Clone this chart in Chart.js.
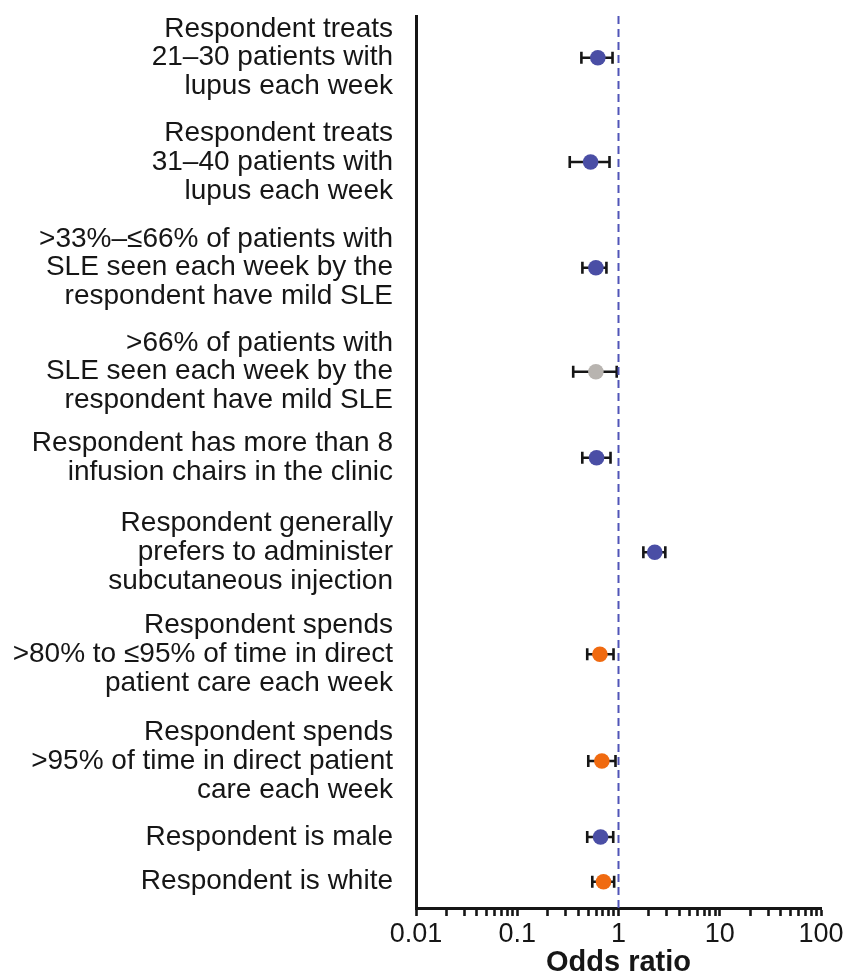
<!DOCTYPE html>
<html>
<head>
<meta charset="utf-8">
<script src="https://cdn.jsdelivr.net/npm/chart.js@4.4.1/dist/chart.umd.min.js"></script>
<style>
html,body{margin:0;padding:0;background:#fff;}
#wrap{width:846px;height:974px;}
</style>
</head>
<body>
<div id="wrap"><canvas id="c" width="846" height="974"></canvas></div>
<script>
// Row labels (multi-line)
const categories = [
  ["Respondent treats", "21\u201330 patients with", "lupus each week"],
  ["Respondent treats", "31\u201340 patients with", "lupus each week"],
  [">33%\u2013\u226466% of patients with", "SLE seen each week by the", "respondent have mild SLE"],
  [">66% of patients with", "SLE seen each week by the", "respondent have mild SLE"],
  ["Respondent has more than 8", "infusion chairs in the clinic"],
  ["Respondent generally", "prefers to administer", "subcutaneous injection"],
  ["Respondent spends", ">80% to \u226495% of time in direct", "patient care each week"],
  ["Respondent spends", ">95% of time in direct patient", "care each week"],
  ["Respondent is male"],
  ["Respondent is white"]
];
// Vertical row positions (axis units, top = 0, bottom = 20)
const rowPos = [0.935, 3.274, 5.643, 7.975, 9.904, 12.025, 14.312, 16.704, 18.408, 19.41];
// Odds ratios and 95% CI
const oddsRatio = [0.625, 0.53, 0.598, 0.598, 0.607, 2.28, 0.655, 0.685, 0.665, 0.711];
const ciLow     = [0.43, 0.33, 0.44, 0.357, 0.439, 1.76, 0.491, 0.503, 0.491, 0.551];
const ciHigh    = [0.873, 0.815, 0.76, 0.96, 0.834, 2.90, 0.893, 0.934, 0.887, 0.906];
// Group of each row: colour key
const group = ["blue","blue","blue","grey","blue","blue","orange","orange","blue","orange"];
const xTickValues = [0.01, 0.1, 1, 10, 100];
const xTickLabels = ["0.01", "0.1", "1", "10", "100"];
const refLine = 1;

const palette = {blue: "#4a4ea5", orange: "#f06a10", grey: "#b8b4b0"};
const ink = "#161616";
const FONT = "'Liberation Sans', Arial, Helvetica, sans-serif";

const errorBars = {
  id: "errorBars",
  beforeDatasetsDraw(chart) {
    const ctx = chart.ctx, xs = chart.scales.x, ys = chart.scales.y;
    ctx.save();
    ctx.strokeStyle = ink;
    ctx.lineWidth = 2.6;
    for (let i = 0; i < oddsRatio.length; i++) {
      const y = ys.getPixelForValue(rowPos[i]);
      const x1 = xs.getPixelForValue(ciLow[i]);
      const x2 = xs.getPixelForValue(ciHigh[i]);
      ctx.beginPath();
      ctx.moveTo(x1, y); ctx.lineTo(x2, y);
      ctx.moveTo(x1, y - 6); ctx.lineTo(x1, y + 6);
      ctx.moveTo(x2, y - 6); ctx.lineTo(x2, y + 6);
      ctx.stroke();
    }
    ctx.restore();
  }
};

const minorTicks = [];
for (let e = -2; e < 2; e++) {
  for (let m = 1; m < 10; m++) minorTicks.push(+(m * Math.pow(10, e)).toPrecision(3));
}
minorTicks.push(100);

new Chart(document.getElementById("c"), {
  data: {
    datasets: [
      {
        type: "scatter",
        order: 1,
        data: oddsRatio.map((v, i) => ({x: v, y: rowPos[i]})),
        pointRadius: 7.8,
        pointHoverRadius: 7.8,
        pointBorderWidth: 0,
        pointBackgroundColor: group.map(g => palette[g]),
        pointBorderColor: group.map(g => palette[g])
      },
      {
        type: "line",
        order: 2,
        data: [{x: refLine, y: 0}, {x: refLine, y: 20}],
        borderColor: "#5055b8",
        borderWidth: 2,
        borderDash: [8, 5],
        pointRadius: 0,
        fill: false
      }
    ]
  },
  options: {
    responsive: false,
    animation: false,
    layout: {padding: {top: 16, right: 25, left: 0, bottom: 0}},
    plugins: {legend: {display: false}, tooltip: {enabled: false}},
    scales: {
      x: {
        type: "logarithmic",
        position: "bottom",
        min: 0.01,
        max: 100,
        afterBuildTicks(scale) { scale.ticks = minorTicks.map(v => ({value: v})); },
        afterFit(scale) { scale.height = 66; scale.paddingLeft = 0; scale.paddingRight = 0; },
        grid: {display: true, drawOnChartArea: false, drawTicks: true, tickLength: 8, tickWidth: 2.6, tickColor: ink},
        border: {display: true, width: 3, color: ink},
        ticks: {
          autoSkip: false,
          maxRotation: 0,
          padding: 2,
          color: ink,
          font: {family: FONT, size: 27},
          callback(value) {
            const k = xTickValues.findIndex(t => Math.abs(t - value) / t < 1e-6);
            return k >= 0 ? xTickLabels[k] : "";
          }
        },
        title: {
          display: true,
          text: "Odds ratio",
          color: ink,
          padding: {top: 0, bottom: 0},
          font: {family: FONT, size: 29, weight: "bold", lineHeight: 0.75}
        }
      },
      y: {
        type: "linear",
        reverse: true,
        min: 0,
        max: 20,
        afterBuildTicks(scale) { scale.ticks = rowPos.map(v => ({value: v})); },
        afterFit(scale) { scale.width = 416; scale.paddingTop = 0; scale.paddingBottom = 0; },
        grid: {display: false},
        border: {display: true, width: 3, color: ink},
        ticks: {
          autoSkip: false,
          padding: 15,
          color: ink,
          font: {family: FONT, size: 28, lineHeight: 1.03},
          callback(value, index) { return categories[index]; }
        }
      }
    }
  },
  plugins: [errorBars]
});
</script>
</body>
</html>
